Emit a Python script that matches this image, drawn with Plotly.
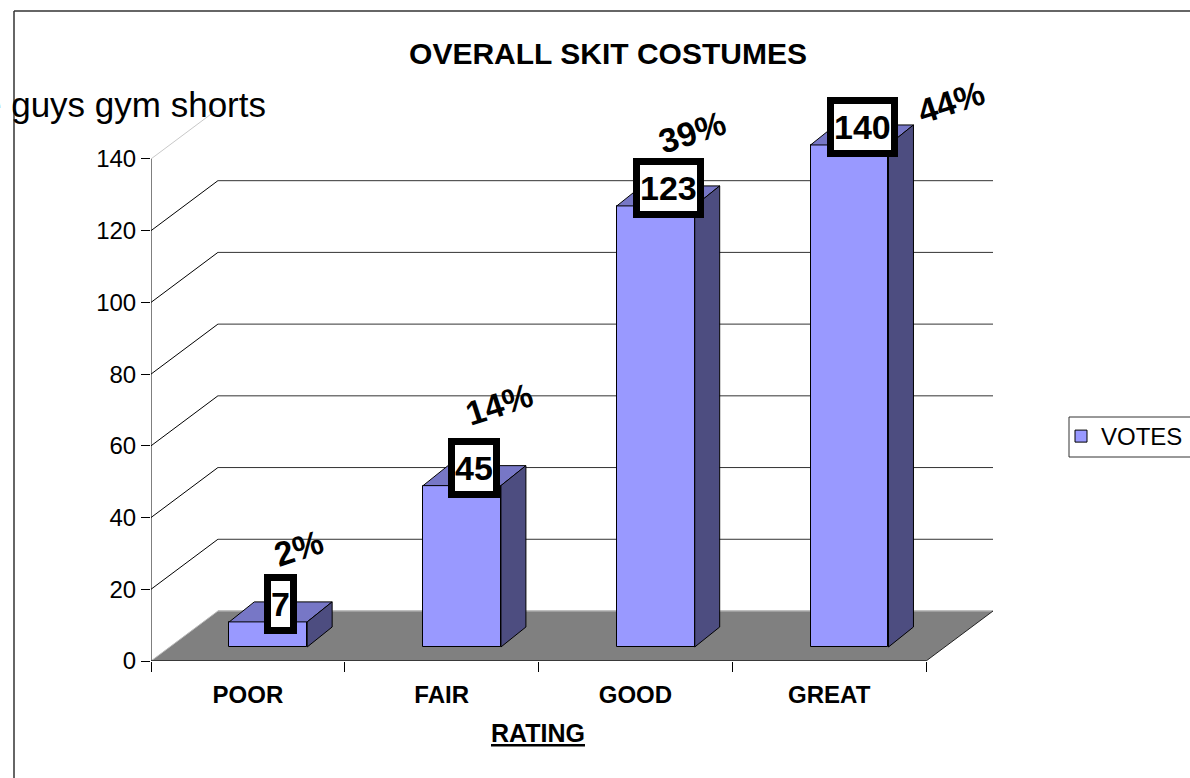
import plotly.graph_objects as go

# ---- data ----
CATEGORIES = ["POOR", "FAIR", "GOOD", "GREAT"]
VOTES = [7, 45, 123, 140]
PERCENTS = ["2%", "14%", "39%", "44%"]
Y_TICKS = [0, 20, 40, 60, 80, 100, 120, 140]

# ---- layout constants (pixels) ----
W, H = 1190, 778
L, R, T, B = 151, 993, 111, 661
CAT_PX = 194.0
UNIT_PX = 3.586
FONT = "Liberation Sans, Arial, sans-serif"
FRONT, TOP, SIDE = "#9999FF", "#7777C6", "#4D4D80"

# depth offsets expressed in axis units
WALL_DX, WALL_DY = 67 / CAT_PX, 50 / UNIT_PX
BAR_DX, BAR_DY = 25 / CAT_PX, 20 / UNIT_PX
BASE = 14 / UNIT_PX
BAR_W = 78 / CAT_PX
BAR_SHIFT = 0.105
PCT_SHIFTS = [(18, 64), (25, 72), (24, 64), (89, 33)]  # px from bar-top centre
N = len(CATEGORIES)
x_bar = [i + 0.5 + BAR_SHIFT for i in range(N)]


def line(x0, y0, x1, y1, color="#000000", width=1):
    return dict(type="line", xref="x", yref="y", x0=x0, y0=y0, x1=x1, y1=y1,
                layer="below", line=dict(color=color, width=width))


def paper_line(x0, y0, x1, y1, color="#333333", width=1.5):
    return dict(type="line", xref="paper", yref="paper",
                x0=(x0 - L) / (R - L), x1=(x1 - L) / (R - L),
                y0=(B - y0) / (B - T), y1=(B - y1) / (B - T),
                layer="below", line=dict(color=color, width=width))


shapes = [paper_line(14, 11, 14, H), paper_line(14, 11, W, 11)]

# legend frame, open at the page edge
shapes += [paper_line(1069, 417, W, 417, width=1),
           paper_line(1069, 457, W, 457, width=1),
           paper_line(1069, 417, 1069, 457, width=1)]

# floor
shapes.append(dict(
    type="path", xref="x", yref="y", layer="below",
    path=f"M 0 0 L {N} 0 L {N + WALL_DX} {WALL_DY} L {WALL_DX} {WALL_DY} Z",
    fillcolor="#808080", line=dict(width=0)))
shapes.append(line(WALL_DX, WALL_DY, N + WALL_DX, WALL_DY, "#AAAAAA", 1.5))
shapes.append(line(0, 0, WALL_DX, WALL_DY, "#BBBBBB", 1))
shapes.append(line(N, 0, N + WALL_DX, WALL_DY, "#222222", 1))

# grid on the walls
for v in Y_TICKS[1:]:
    faint = v == Y_TICKS[-1]
    shapes.append(line(0, v, WALL_DX, v + WALL_DY, "#C8C8C8" if faint else "#000000", 1))
    shapes.append(line(WALL_DX, v + WALL_DY, N + WALL_DX, v + WALL_DY,
                       "#EEEEEE" if faint else "#333333", 1))

# axis lines
shapes.append(line(0, 0, 0, Y_TICKS[-1], "#000000", 1))
shapes.append(line(0, 0, N, 0, "#222222", 1.5))

fig = go.Figure()

# front faces
fig.add_trace(go.Bar(
    x=x_bar, y=VOTES, base=[BASE] * N, width=BAR_W, name="VOTES",
    marker=dict(color=FRONT, line=dict(color="#000000", width=1)),
    showlegend=True, hoverinfo="skip"))

# top and side faces
for xc, v in zip(x_bar, VOTES):
    x0, x1 = xc - BAR_W / 2, xc + BAR_W / 2
    yt = BASE + v
    fig.add_trace(go.Scatter(
        x=[x0, x1, x1 + BAR_DX, x0 + BAR_DX, x0],
        y=[yt, yt, yt + BAR_DY, yt + BAR_DY, yt],
        mode="lines", fill="toself", fillcolor=TOP,
        line=dict(color="#000000", width=1), showlegend=False, hoverinfo="skip"))
    fig.add_trace(go.Scatter(
        x=[x1, x1 + BAR_DX, x1 + BAR_DX, x1, x1],
        y=[BASE, BASE + BAR_DY, yt + BAR_DY, yt, BASE],
        mode="lines", fill="toself", fillcolor=SIDE,
        line=dict(color="#000000", width=1), showlegend=False, hoverinfo="skip"))

annotations = []
for xc, v, pct, (dx, dy) in zip(x_bar, VOTES, PERCENTS, PCT_SHIFTS):
    cx = xc + BAR_DX / 2
    cy = BASE + v + BAR_DY / 2
    annotations.append(dict(
        x=cx, y=cy, xref="x", yref="y", yshift=8, showarrow=False,
        text=f"<b>{v}</b>", font=dict(family=FONT, size=34, color="#000000"),
        bgcolor="#FFFFFF", bordercolor="#000000", borderwidth=7, borderpad=0,
        height=46, xanchor="center", yanchor="middle"))
    annotations.append(dict(
        x=cx, y=cy, xref="x", yref="y", xshift=dx, yshift=dy, showarrow=False,
        text=f"<b>{pct}</b>", font=dict(family=FONT, size=34, color="#000000"),
        textangle=-18, xanchor="center", yanchor="middle"))

# stray text overflowing the chart frame
annotations.append(dict(
    x=(268 - L) / (R - L), y=(B - 105) / (B - T), xref="paper", yref="paper",
    text="e guys gym shorts", showarrow=False, xanchor="right", yanchor="middle",
    font=dict(family=FONT, size=35, color="#000000")))

# axis title, placed off-centre as in the source chart
annotations.append(dict(
    x=(538 - L) / (R - L), y=(B - 733) / (B - T), xref="paper", yref="paper",
    text="<b><u>RATING</u></b>", showarrow=False, xanchor="center", yanchor="middle",
    font=dict(family=FONT, size=25, color="#000000")))

fig.update_layout(
    width=W, height=H, autosize=False,
    margin=dict(l=L, r=W - R, t=T, b=H - B, pad=0),
    paper_bgcolor="#FFFFFF", plot_bgcolor="rgba(0,0,0,0)",
    font=dict(family=FONT, size=24, color="#000000"),
    title=dict(text="<b>OVERALL SKIT COSTUMES</b>", x=608 / W, xanchor="center",
               y=1 - 53 / H, yanchor="middle",
               font=dict(family=FONT, size=30, color="#000000")),
    shapes=shapes, annotations=annotations, bargap=0,
    legend=dict(xref="container", yref="container", x=1061 / W, y=1 - 414 / H,
                xanchor="left", yanchor="top", bgcolor="rgba(0,0,0,0)",
                borderwidth=0,
                font=dict(family=FONT, size=24, color="#000000"),
                itemwidth=30, tracegroupgap=0),
    xaxis=dict(range=[0, N + WALL_DX], tickmode="array",
               tickvals=[i + 0.5 for i in range(N)],
               ticktext=[f"<b>{c}</b>" for c in CATEGORIES],
               ticks="", showgrid=False, zeroline=False, showline=False,
               ticklabelstandoff=17,
               minor=dict(tickmode="array", tickvals=list(range(N + 1)),
                          ticks="outside", ticklen=10, tickcolor="#000000",
                          showgrid=False)),
    yaxis=dict(range=[0, (B - T) / UNIT_PX], tickmode="array", tickvals=Y_TICKS,
               ticks="outside", ticklen=9, tickcolor="#000000", showgrid=False,
               zeroline=False, showline=False,
               tickfont=dict(family=FONT, size=24, color="#000000")),
)

fig.write_html("out.html", config=dict(displayModeBar=False),
               post_script="document.body.style.margin='0';document.body.style.overflow='hidden';")
